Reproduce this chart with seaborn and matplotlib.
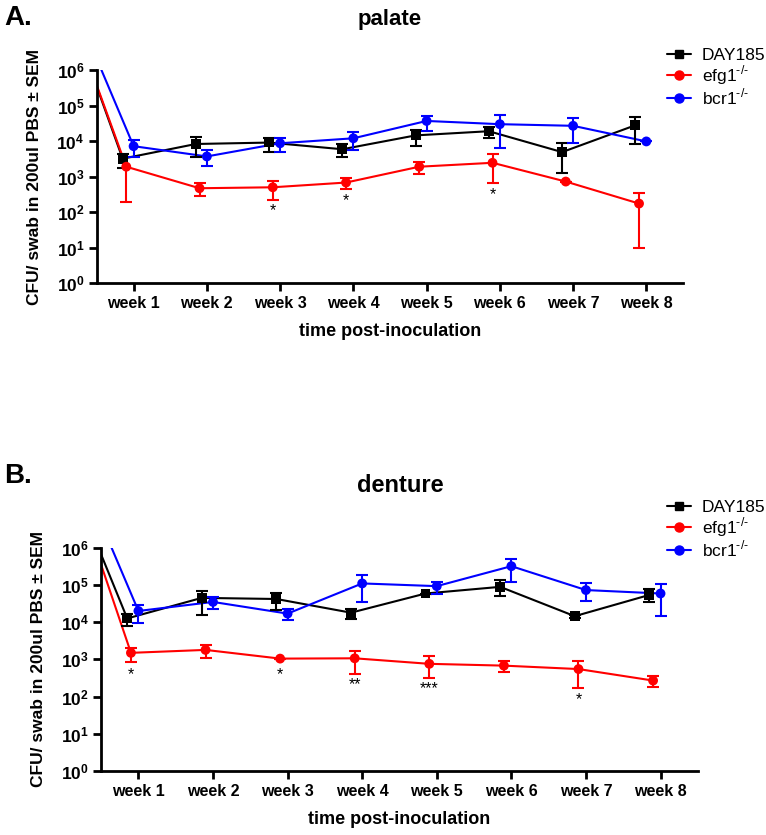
import matplotlib
matplotlib.use("Agg")
import matplotlib.pyplot as plt
from matplotlib.lines import Line2D
import numpy as np
import pandas as pd
import seaborn as sns

# ---------------------------------------------------------------------------
# data (CFU per swab, mean with upper / lower SEM ends)
# ---------------------------------------------------------------------------
weeks = [1, 2, 3, 4, 5, 6, 7, 8]
week_labels = ["week 1", "week 2", "week 3", "week 4",
               "week 5", "week 6", "week 7", "week 8"]
strains = ["DAY185", "efg1", "bcr1"]

# palate
palate_day185 = [3.2e3, 8.3e3, 9.1e3, 5.9e3, 1.45e4, 1.9e4, 4.9e3, 2.8e4]
palate_day185_hi = [4.4e3, 1.3e4, 1.26e4, 8.3e3, 2.1e4, 2.5e4, 8.7e3, 4.9e4]
palate_day185_lo = [1.7e3, 3.6e3, 4.9e3, 3.5e3, 7.2e3, 1.2e4, 1.26e3, 8.3e3]
palate_efg1 = [1.9e3, 470, 500, 680, 1.9e3, 2.45e3, 725, 174]
palate_efg1_hi = [3.6e3, 650, 760, 900, 2.6e3, 4.2e3, 725, 350]
palate_efg1_lo = [195, 275, 220, 440, 1.2e3, 680, 725, 10]
palate_bcr1 = [7.2e3, 3.7e3, 8.7e3, 1.2e4, 3.7e4, 3.0e4, 2.7e4, 9.8e3]
palate_bcr1_hi = [1.07e4, 5.5e3, 1.2e4, 1.8e4, 5.2e4, 5.4e4, 4.4e4, 9.8e3]
palate_bcr1_lo = [3.6e3, 2.0e3, 4.9e3, 5.8e3, 1.95e4, 6.3e3, 9.1e3, 9.8e3]
palate_start = [3.3e5, 3.6e5, 2.0e6]          # inoculum, line enters at axis
palate_sig_weeks = [3, 4, 6]
palate_sig_text = ["*", "*", "*"]
palate_sig_y = [110, 205, 316]

# denture
denture_day185 = [1.26e4, 4.5e4, 4.2e4, 1.8e4, 5.9e4, 8.9e4, 1.45e4, 5.4e4]
denture_day185_hi = [1.7e4, 7.0e4, 6.2e4, 2.3e4, 5.9e4, 1.35e5, 1.6e4, 7.8e4]
denture_day185_lo = [8.1e3, 1.6e4, 2.1e4, 1.2e4, 5.9e4, 5.0e4, 1.3e4, 3.4e4]
denture_efg1 = [1.5e3, 1.8e3, 1.05e3, 1.07e3, 760, 680, 550, 270]
denture_efg1_hi = [2.0e3, 2.5e3, 1.05e3, 1.7e3, 1.2e3, 905, 925, 365]
denture_efg1_lo = [870, 1.07e3, 1.05e3, 415, 325, 470, 170, 180]
denture_bcr1 = [2.0e4, 3.5e4, 1.7e4, 1.1e5, 9.3e4, 3.2e5, 7.3e4, 5.9e4]
denture_bcr1_hi = [2.9e4, 4.8e4, 2.2e4, 1.9e5, 1.2e5, 5.0e5, 1.1e5, 1.04e5]
denture_bcr1_lo = [9.8e3, 2.2e4, 1.15e4, 3.4e4, 5.9e4, 1.2e5, 3.6e4, 1.5e4]
denture_start = [6.6e5, 3.5e5, 4.6e6]
denture_sig_weeks = [1, 3, 4, 5, 7]
denture_sig_text = ["*", "*", "**", "***", "*"]
denture_sig_y = [400, 400, 215, 165, 81]

# ---------------------------------------------------------------------------
sns.set_theme(style="ticks")
plt.rcParams["font.family"] = ["Liberation Sans", "DejaVu Sans"]
plt.rcParams["mathtext.fontset"] = "custom"
plt.rcParams["mathtext.rm"] = "Liberation Sans"
plt.rcParams["mathtext.bf"] = "Liberation Sans:bold"
for key in ["text.color", "axes.labelcolor", "xtick.color", "ytick.color",
            "axes.edgecolor"]:
    plt.rcParams[key] = "black"

colors = {"DAY185": "black", "efg1": "#ff0000", "bcr1": "#0000ff"}
markers = {"DAY185": "s", "efg1": "o", "bcr1": "o"}
x_shift = {"DAY185": -0.15, "efg1": -0.1, "bcr1": 0.0}
legend_names = {"DAY185": "DAY185", "efg1": r"efg1$^{\text{-/-}}$",
                "bcr1": r"bcr1$^{\text{-/-}}$"}


def build_frames(means, his, los, starts):
    line_rows, point_rows = [], []
    for s, m, hi, lo, st in zip(strains, means, his, los, starts):
        line_rows.append({"strain": s, "x": 0.5, "cfu": st})
        for w, v, h, l in zip(weeks, m, hi, lo):
            x = w + x_shift[s]
            line_rows.append({"strain": s, "x": x, "cfu": v})
            point_rows.append({"strain": s, "x": x, "cfu": v, "hi": h, "lo": l})
    return pd.DataFrame(line_rows), pd.DataFrame(point_rows)


def draw_panel(ax, lines, points, sig_weeks, sig_text, sig_y, label_x):
    sns.lineplot(data=lines, x="x", y="cfu", hue="strain", palette=colors,
                 hue_order=strains, sort=False, estimator=None, lw=1.5,
                 legend=False, ax=ax)
    for s in strains:
        sub = points[points["strain"] == s]
        ax.errorbar(sub["x"], sub["cfu"],
                    yerr=[sub["cfu"] - sub["lo"], sub["hi"] - sub["cfu"]],
                    fmt="none", ecolor=colors[s], elinewidth=1.5,
                    capsize=4, capthick=1.5, zorder=3)
    sns.scatterplot(data=points, x="x", y="cfu", hue="strain", style="strain",
                    palette=colors, markers=markers, hue_order=strains,
                    style_order=strains, s=50, edgecolor="none",
                    legend=False, ax=ax, zorder=4)
    for w, t, y in zip(sig_weeks, sig_text, sig_y):
        ax.text(w + x_shift["efg1"], y, t, ha="center", va="center",
                fontsize=11.5, color="black")

    ax.set_yscale("log")
    ax.set_ylim(1, 1e6)
    ax.set_xlim(0.5, 8.5)
    ax.set_yticks([10.0 ** k for k in range(7)])
    ax.set_yticklabels([r"$\mathbf{10^{%d}}$" % k for k in range(7)], fontsize=12.5)
    ax.yaxis.set_minor_locator(matplotlib.ticker.NullLocator())
    ax.set_xticks(weeks)
    ax.set_xticklabels(week_labels, fontsize=11.5, fontweight="bold")
    ax.tick_params(axis="both", direction="out", length=6, width=2, pad=3)
    for side in ["left", "bottom"]:
        ax.spines[side].set_linewidth(2)
    sns.despine(ax=ax)
    ax.set_ylabel("CFU/ swab in 200ul PBS ± SEM", fontsize=12.5,
                  fontweight="bold")
    ax.yaxis.set_label_coords(label_x, 0.5)
    ax.set_xlabel("time post-inoculation", fontsize=13,
                  fontweight="bold", labelpad=9)


fig = plt.figure(figsize=(7.66, 8.35), dpi=100)
ax_a = fig.add_axes([0.1266, 0.661, 0.765, 0.255])
ax_b = fig.add_axes([0.132, 0.0766, 0.779, 0.2674])

la, pa = build_frames([palate_day185, palate_efg1, palate_bcr1],
                      [palate_day185_hi, palate_efg1_hi, palate_bcr1_hi],
                      [palate_day185_lo, palate_efg1_lo, palate_bcr1_lo],
                      palate_start)
lb, pb = build_frames([denture_day185, denture_efg1, denture_bcr1],
                      [denture_day185_hi, denture_efg1_hi, denture_bcr1_hi],
                      [denture_day185_lo, denture_efg1_lo, denture_bcr1_lo],
                      denture_start)

draw_panel(ax_a, la, pa, palate_sig_weeks, palate_sig_text, palate_sig_y, -0.094)
draw_panel(ax_b, lb, pb, denture_sig_weeks, denture_sig_text, denture_sig_y, -0.093)

handles = [Line2D([0], [0], color=colors[s], marker=markers[s], lw=1.5,
                  markersize=6.5 if s != "DAY185" else 6)
           for s in strains]
labels = [legend_names[s] for s in strains]
for ax, top in [(ax_a, 1 - 41 / 835), (ax_b, 1 - 493 / 835)]:
    ax.legend(handles, labels, loc="upper left", frameon=False,
              bbox_to_anchor=(660 / 766, top), bbox_transform=fig.transFigure,
              fontsize=12.5, handlelength=1.4, handletextpad=0.6,
              labelspacing=0.0, borderaxespad=0)

fig.text(390 / 766, 1 - 20 / 835, "palate", ha="center", va="center",
         fontsize=16, fontweight="bold")
fig.text(400 / 766, 1 - 486 / 835, "denture", ha="center", va="center",
         fontsize=17, fontweight="bold")
fig.text(4 / 766, 1 - 18 / 835, "A.", ha="left", va="center",
         fontsize=20, fontweight="bold")
fig.text(4 / 766, 1 - 476 / 835, "B.", ha="left", va="center",
         fontsize=20, fontweight="bold")

fig.savefig("out.png", dpi=100)
plt.close(fig)
